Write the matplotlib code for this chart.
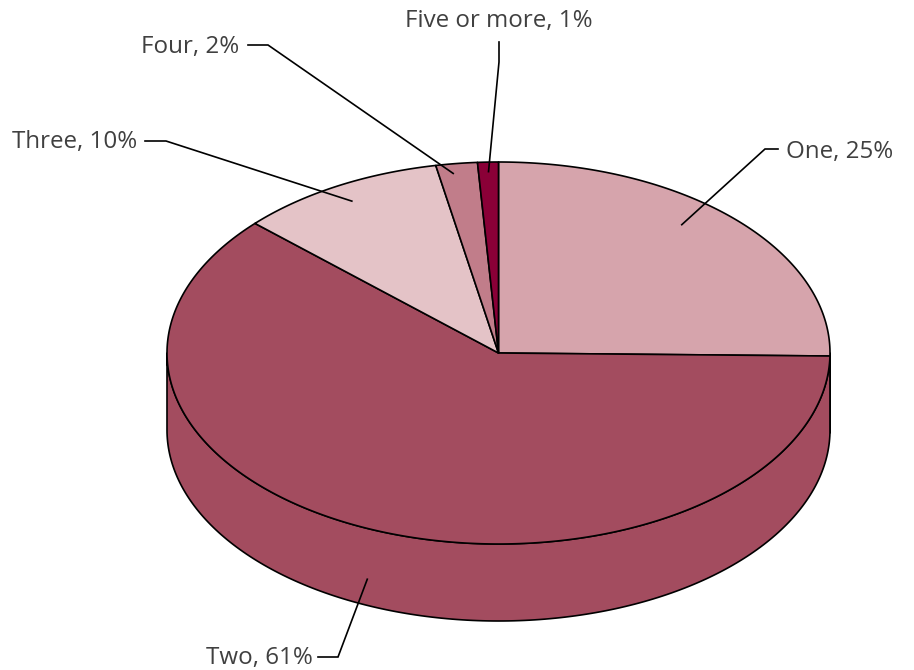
import numpy as np
import matplotlib
matplotlib.use("Agg")
import matplotlib.pyplot as plt
from matplotlib.patches import Polygon

# Number of items per household (share of respondents, %)
categories = ["One", "Two", "Three", "Four", "Five or more"]
values = [25, 61, 10, 2, 1]
colors = ["#D6A4AC", "#A34C5F", "#E4C3C7", "#C17D8A", "#8A0037"]

# Pie geometry (pixel space)
CX, CY = 498.5, 353.0
RX, RY = 331.5, 191.0
DEPTH = 77.0
START = 90.0

fig = plt.figure(figsize=(9.14, 6.70), dpi=100)
ax = fig.add_axes([0, 0, 1, 1])
ax.set_xlim(0, 914)
ax.set_ylim(670, 0)
ax.axis("off")

total = float(sum(values))
spans = [v / total * 360.0 for v in values]
bounds = []
a = START
for s in spans:
    bounds.append((a - s, a))
    a -= s


def rim(theta_deg, r=1.0, dz=0.0):
    t = np.radians(theta_deg)
    return CX + r * RX * np.cos(t), CY - r * RY * np.sin(t) + dz


EDGE = dict(edgecolor="black", linewidth=1.2, joinstyle="round")

# Side walls (front half only)
for (a1, a0), col in zip(bounds, colors):
    for k in (-1, 0):
        lo, hi = max(a1, -180 + 360 * k), min(a0, 360 * k)
        if hi - lo <= 0.01:
            continue
        th = np.linspace(lo, hi, 200)
        xt, yt = rim(th)
        xb, yb = rim(th[::-1], dz=DEPTH)
        pts = np.column_stack([np.r_[xt, xb], np.r_[yt, yb]])
        ax.add_patch(Polygon(pts, closed=True, facecolor=col, zorder=1, **EDGE))

# Top wedges
for (a1, a0), col in zip(bounds, colors):
    th = np.linspace(a1, a0, 300)
    xs, ys = rim(th)
    pts = np.column_stack([np.r_[CX, xs], np.r_[CY, ys]])
    ax.add_patch(Polygon(pts, closed=True, facecolor=col, zorder=2, **EDGE))

# Labels with leader lines
label_font = dict(family="Open Sans", fontsize=17.4, color="#404040")
layout = {
    "One": dict(off=6, r=0.87, dz=0.0, elbow=[(765, 149), (778, 149)], txt=(786, 152), ha="left"),
    "Two": dict(off=-1.5, r=1.0, dz=0.66, elbow=[(338, 657), (318, 657)], txt=(313, 658), ha="right"),
    "Three": dict(off=0, r=0.91, dz=0.0, elbow=[(166, 141), (145, 141)], txt=(137, 142), ha="right"),
    "Four": dict(off=1, r=0.95, dz=0.0, elbow=[(268, 45), (248, 45)], txt=(239, 47), ha="right"),
    "Five or more": dict(off=0, r=0.95, dz=0.0, elbow=[(499, 62), (499, 42)], txt=(499, 21), ha="center"),
}

for cat, v, (a1, a0) in zip(categories, values, bounds):
    L = layout[cat]
    mid = (a1 + a0) / 2 + L["off"]
    x0, y0 = rim(mid, r=L["r"], dz=L["dz"] * DEPTH)
    xs = [x0] + [p[0] for p in L["elbow"]]
    ys = [y0] + [p[1] for p in L["elbow"]]
    ax.plot(xs, ys, color="black", linewidth=1.2, zorder=3, solid_joinstyle="miter")
    ax.text(L["txt"][0], L["txt"][1], f"{cat}, {v}%", ha=L["ha"], va="center",
            zorder=4, **label_font)

fig.savefig("out.png", dpi=100, facecolor="white")
